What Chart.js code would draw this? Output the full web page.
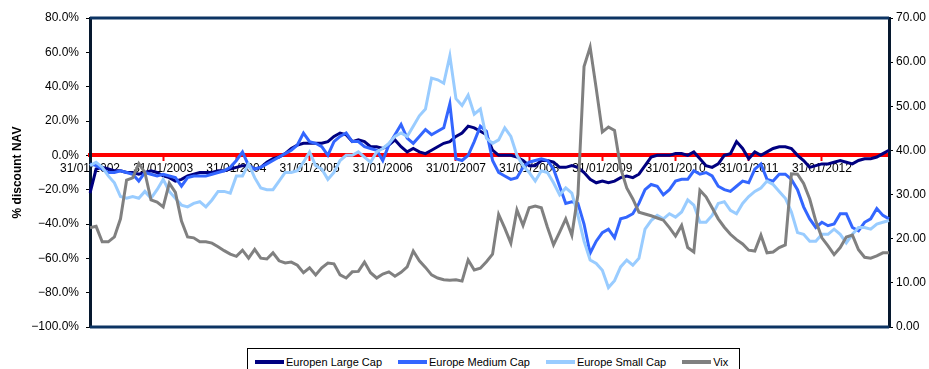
<!DOCTYPE html>
<html lang="en">
<head>
<meta charset="UTF-8">
<title>% discount NAV and Vix</title>
<script src="https://cdn.jsdelivr.net/npm/chart.js"></script>
<style>
  html, body { margin: 0; padding: 0; background: #fff; }
  body {
    width: 929px;
    height: 369px;
    overflow: hidden;
    position: relative;
    font-family: Arial, "Liberation Sans", sans-serif;
  }
  #chart { position: absolute; left: 0; top: 0; }
  #legend {
    position: absolute;
    left: 247px;
    top: 348px;
    width: 484px;
    height: 26px;
    padding-left: 7px;
    border: 1px solid #000;
    background: #fff;
    display: flex;
    align-items: center;
    font-size: 11px;
    color: #000;
  }
  .item { display: flex; align-items: center; margin-right: 16px; white-space: nowrap; }
  .swatch { width: 29px; height: 4px; margin-right: 2px; }
</style>
</head>
<body>
  <canvas id="chart" width="929" height="369"></canvas>
  <div id="legend"></div>
  <script>
    // monthly month-end dates, Jan 2002 .. Dec 2012
    const months = [];
    for (let y = 2002; y <= 2012; y++) {
      for (let m = 1; m <= 12; m++) {
        const last = new Date(y, m, 0).getDate();
        months.push(String(last).padStart(2, '0') + '/' + String(m).padStart(2, '0') + '/' + y);
      }
    }

    // % discount to NAV (left axis)
    const largeCap = [
      -22, -8, -7, -8, -9, -9, -10, -10, -11, -10, -9, -10,
      -12, -13, -15, -14, -12, -11, -10, -10, -10, -9, -9, -8,
      -7, -6, -6, -8, -7, -4, -2, -1, 1, 4, 6, 7,
      7, 7, 7, 8, 11, 13, 12, 8, 9, 8, 5, 5,
      4, 6, 9, 5, 2, 4, 2, 1, 3, 5, 7, 8,
      11, 13, 17, 16, 14, 12, 3, 0, 0, 0, -1, -3,
      -6, -6, -3, -3, -4, -7, -7, -6, -7, -10, -14, -16,
      -15, -16, -15, -13, -12, -13, -11, -6, -1, 0, 0, 0,
      1, 1, 0, 2, -2, -6, -7, -5, 0, 1, 8, 4,
      -2, 2, 0, 2, 4, 5, 5, 4, 0, -3, -7, -6,
      -5, -5, -4, -3, -4, -5, -3, -2, -2, -1, 1, 3
    ];
    const mediumCap = [
      -5, -6, -8, -10, -10, -9, -10, -11, -15, -10, -11, -12,
      -11, -12, -13, -18, -13, -12, -12, -12, -11, -10, -9, -7,
      -3, 2, -6, -8, -7, -5, -3, -1, 1, 3, 6, 13,
      8, 7, 5, 0, 8, 11, 13, 8, 8, 5, 4, 3,
      -3, 6, 12, 18, 10, 7, 11, 15, 12, 14, 16, 30,
      -2, -3, 0, 8, 17, 14, -3, -10, -12, -14, -13, -7,
      -4, -3, -2, -3, -8, -18, -28, -27, -28, -40, -57, -50,
      -45, -43, -48, -37, -36, -34, -28, -20, -17, -18, -23, -20,
      -15, -14, -14, -9, -11, -10, -12, -18, -20, -21, -18, -15,
      -16, -8, -5, -14, -15, -11, -11, -14, -20, -30, -37, -42,
      -39, -41, -40, -34, -34, -42, -44, -39, -37, -31, -35, -37
    ];
    const smallCap = [
      -6, -4, -7, -12, -16, -24, -25, -24, -25, -21, -25, -20,
      -14, -21, -25, -29, -30, -28, -27, -30, -26, -21, -21, -22,
      -12, -12, -5, -13, -19, -20, -20, -15, -10, -10, -9, -4,
      2, -6, -8, -14, -10, -3, 0, 0, 2, -1, -4, 2,
      4, 7, 11, 13, 11, 17, 23, 27, 45, 44, 42, 58,
      33, 29, 35, 24, 27, 10, 7, 9, 16, 11, 0, -6,
      -10, -15, -9, -10, -16, -23, -19, -22, -35, -50, -61, -63,
      -67, -77, -73, -65, -61, -64, -60, -43, -38, -35, -37, -34,
      -36, -33, -26, -29, -39, -39, -35, -28, -27, -32, -34, -28,
      -24, -21, -19, -15, -17, -21, -25, -33, -45, -46, -50, -50,
      -46, -46, -43, -46, -51, -46, -42, -42, -43, -40, -39, -38
    ];
    // Vix index (right axis)
    const vix = [
      22.5, 22.8, 19.3, 19.3, 20.4, 24.5, 33.3, 33.8, 37.0, 35.0, 28.8, 28.3,
      27.2, 32.6, 30.5, 24.0, 20.4, 20.2, 19.3, 19.3, 19.0, 18.2, 17.3, 16.5,
      16.0, 17.4, 15.6, 17.6, 15.6, 15.4, 16.8, 15.0, 14.5, 14.7, 14.0, 12.3,
      13.4, 11.8, 13.4, 14.5, 14.3, 11.8, 11.1, 12.5, 12.6, 14.7, 12.3, 11.1,
      12.0, 12.5, 11.5, 12.4, 13.6, 17.2, 15.0, 13.5, 11.8, 11.1, 10.7, 10.6,
      10.7, 10.4, 15.2, 12.9, 13.3, 14.8, 16.5, 25.5, 22.4, 19.0, 26.5, 23.0,
      27.0, 27.4, 27.0, 22.6, 18.6, 21.5, 24.5, 20.8, 30.0, 59.0, 63.4, 54.0,
      44.2, 45.3, 44.5, 36.0, 31.5, 29.0, 26.0, 25.6, 25.2, 24.7, 24.2, 22.5,
      20.6, 23.0, 18.0, 17.0, 31.0, 29.5, 27.0, 24.5, 22.6, 21.0, 19.8, 18.8,
      17.4, 17.2, 20.8, 16.8, 17.0, 18.0, 18.6, 34.7, 34.6, 32.5, 29.0, 24.0,
      20.2, 18.4, 16.4, 18.0, 20.4, 20.8, 17.5, 15.8, 15.6, 16.1, 16.8, 16.8
    ];

    const seriesNames = ['Europen Large Cap', 'Europe Medium Cap', 'Europe Small Cap', 'Vix'];
    const seriesColors = ['#000080', '#3366ff', '#99ccff', '#808080'];

    Chart.defaults.font.family = 'Arial, "Liberation Sans", sans-serif';
    Chart.defaults.font.size = 12;
    Chart.defaults.color = '#000';

    // top and bottom edges of the plot area
    const plotFrame = {
      id: 'plotFrame',
      beforeDatasetsDraw(chart) {
        const { ctx, chartArea: a } = chart;
        ctx.save();
        ctx.strokeStyle = '#0c3463';
        ctx.lineWidth = 3;
        ctx.beginPath();
        ctx.moveTo(a.left, a.top);
        ctx.lineTo(a.right, a.top);
        ctx.moveTo(a.left, a.bottom);
        ctx.lineTo(a.right, a.bottom);
        ctx.stroke();
        ctx.restore();
      }
    };

    function line(i, data, axis, order) {
      return {
        label: seriesNames[i],
        data: data,
        yAxisID: axis,
        borderColor: seriesColors[i],
        backgroundColor: seriesColors[i],
        borderWidth: 3,
        pointRadius: 0,
        tension: 0,
        order: order
      };
    }

    const chart = new Chart(document.getElementById('chart'), {
      type: 'line',
      data: {
        labels: months,
        datasets: [
          line(0, largeCap, 'y', 4),
          line(1, mediumCap, 'y', 3),
          line(2, smallCap, 'y', 2),
          line(3, vix, 'y1', 1)
        ]
      },
      options: {
        responsive: false,
        animation: false,
        layout: { padding: { left: 0, right: 0, top: 18, bottom: 42 } },
        plugins: {
          legend: { display: false },
          tooltip: { enabled: false }
        },
        scales: {
          x: {
            position: { y: 0 },
            offset: false,
            border: { display: true, color: '#ff0000', width: 4 },
            grid: {
              drawOnChartArea: false,
              drawTicks: true,
              tickLength: 4,
              tickWidth: 2,
              tickColor: (c) => (c.index % 12 === 0 ? '#ff0000' : 'rgba(0,0,0,0)')
            },
            ticks: {
              autoSkip: false,
              maxRotation: 0,
              minRotation: 0,
              padding: 2,
              callback: function (val, idx) {
                return idx % 12 === 0 ? this.getLabelForValue(val) : '';
              }
            }
          },
          y: {
            position: 'left',
            min: -100,
            max: 80,
            border: { display: true, color: '#06182e', width: 3 },
            grid: { drawOnChartArea: false, tickLength: 4, color: '#000' },
            ticks: {
              stepSize: 20,
              padding: 7,
              callback: (v) => (v < 0 ? '\u2212' + Math.abs(v).toFixed(1) : v.toFixed(1)) + '%'
            },
            title: {
              display: true,
              text: '% discount NAV',
              font: { weight: 'bold', size: 12 },
              padding: { top: 10, bottom: 0 }
            },
            afterFit: (s) => { s.width = 90; }
          },
          y1: {
            position: 'right',
            min: 0,
            max: 70,
            border: { display: true, color: '#06182e', width: 3 },
            grid: { drawOnChartArea: false, tickLength: 4, color: '#000' },
            ticks: {
              stepSize: 10,
              padding: 3,
              callback: (v) => v.toFixed(2)
            },
            afterFit: (s) => { s.width = 40; }
          }
        }
      },
      plugins: [plotFrame]
    });

    // legend box below the plot
    const legend = document.getElementById('legend');
    chart.data.datasets.forEach((ds) => {
      const item = document.createElement('div');
      item.className = 'item';
      const sw = document.createElement('span');
      sw.className = 'swatch';
      sw.style.background = ds.borderColor;
      const txt = document.createElement('span');
      txt.textContent = ds.label;
      item.appendChild(sw);
      item.appendChild(txt);
      legend.appendChild(item);
    });
  </script>
</body>
</html>
